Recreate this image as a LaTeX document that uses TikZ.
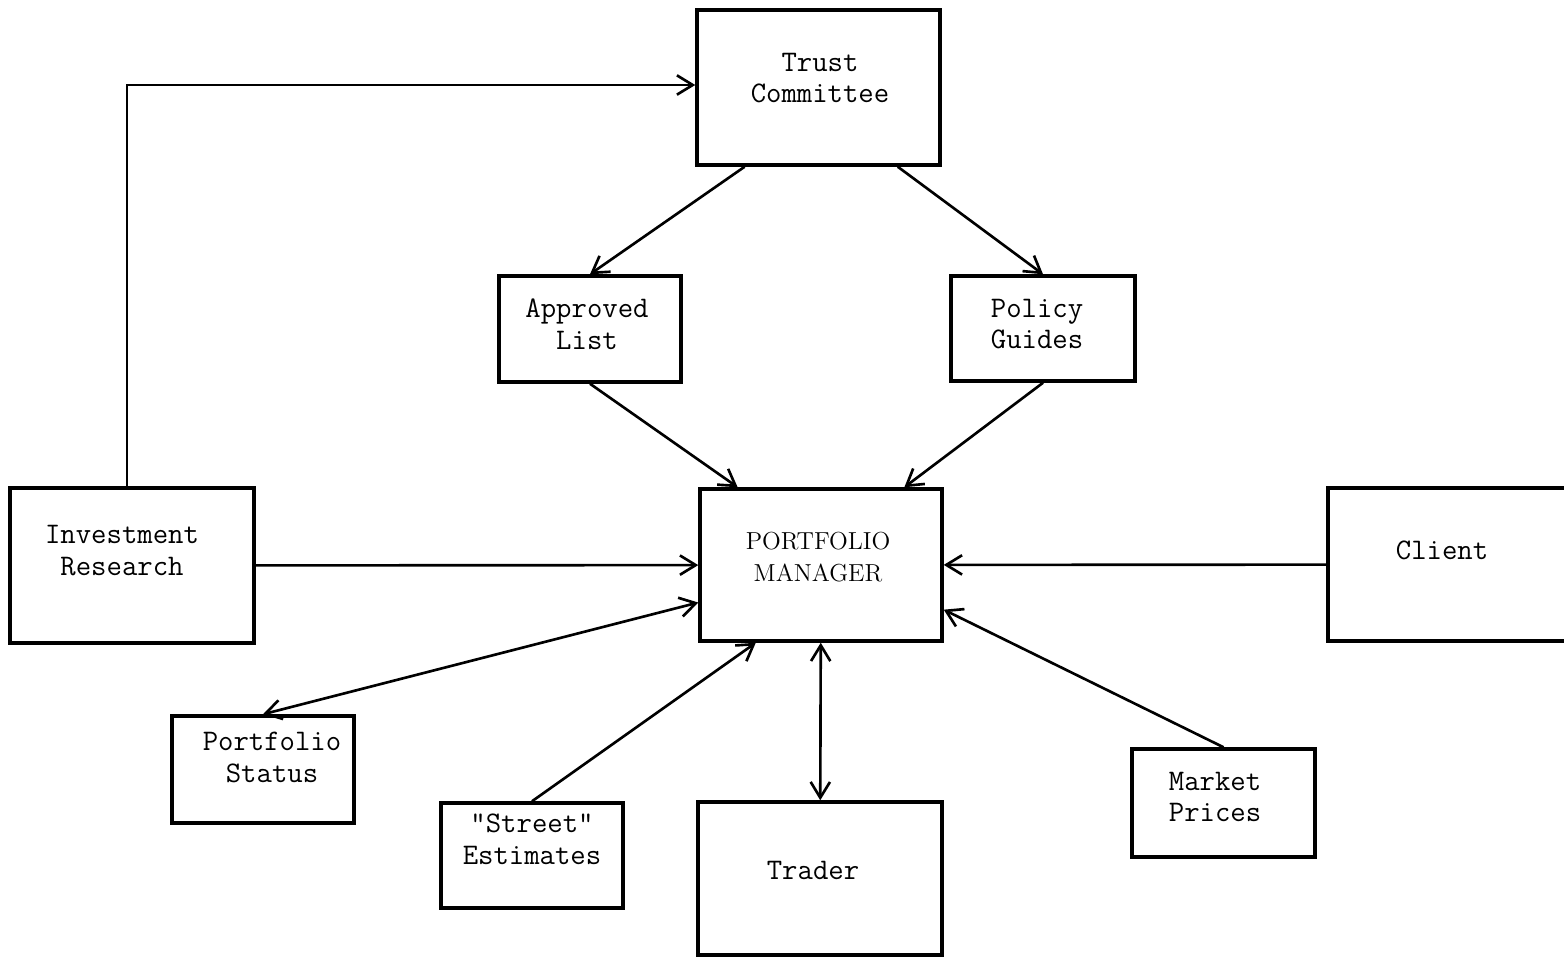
\documentclass[tikz,border=0pt]{standalone}
\usetikzlibrary{arrows.meta}

\tikzset{
  box/.style 2 args={draw, line width=2pt, inner sep=0pt, minimum width=#1, minimum height=#2},
  lbl/.style={font=\fontsize{17}{18}\selectfont\ttfamily, align=center, inner sep=0pt},
  caps/.style={font=\fontsize{14}{18}\selectfont\rmfamily, align=center, inner sep=0pt},
  barb/.tip={Straight Barb[length=9pt,width=11pt]},
  arr/.style={line width=1.5pt, -barb},
  darr/.style={line width=1.5pt, barb-barb},
}

\begin{document}
\begin{tikzpicture}[x=0.02cm,y=-0.02cm]
  \clip (0,0) rectangle (1564,957);
  % boxes
  \node[box={4.86cm}{3.10cm}] (tc) at (818.5,87.5) {};
  \node[box={3.64cm}{2.12cm}] (al) at (590,329) {};
  \node[box={3.68cm}{2.10cm}] (pg) at (1043,328.5) {};
  \node[box={4.84cm}{3.04cm}] (pm) at (821,565) {};
  \node[box={4.88cm}{3.10cm}] (ir) at (132,565.5) {};
  \node[box={5.60cm}{3.06cm}] (cl) at (1468,564.5) {};
  \node[box={3.64cm}{2.14cm}] (ps) at (263,769.5) {};
  \node[box={3.64cm}{2.10cm}] (se) at (532,855.5) {};
  \node[box={4.88cm}{3.06cm}] (tr) at (820,878.5) {};
  \node[box={3.66cm}{2.16cm}] (mp) at (1223.5,803) {};
  % texts
  \node[lbl] (tc-t) at (820,78) {Trust\\Committee};
  \node[lbl] (al-t) at (587,324) {Approved\\List};
  \node[lbl] (pg-t) at (1037,324) {Policy\\Guides};
  \node[caps] (pm-t) at (818,557) {PORTFOLIO\\MANAGER};
  \node[lbl] (ir-t) at (122,550.5) {Investment\\Research};
  \node[lbl] (cl-t) at (1442,550) {Client};
  \node[lbl] (ps-t) at (272,757.5) {Portfolio\\Status};
  \node[lbl] (se-t) at (532,839) {"Street"\\Estimates};
  \node[lbl] (tr-t) at (813,870) {Trader};
  \node[lbl] (mp-t) at (1215,797) {Market\\Prices};
  % connectors
  \draw[arr] ([xshift=-0.1cm]ir.north) |- ([yshift=0.05cm]tc.west);
  \path[arr] (tc.-133) edge (al.north)
    (tc.-45) edge (pg.north)
    (al.south) edge (pm.137)
    (pg.south) edge (pm.43)
    (ir) edge (pm)
    (cl) edge (pm)
    (se.north) edge (pm.-130)
    (mp.north) edge (pm.-20);
  \path[darr] (pm.-163) edge (ps.north)
    (pm) edge (tr);
\end{tikzpicture}
\end{document}
